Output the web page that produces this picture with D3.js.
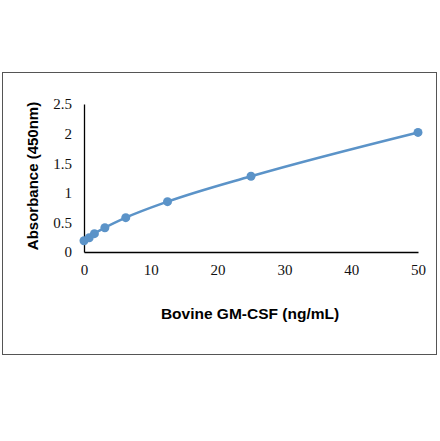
<!DOCTYPE html>
<html><head><meta charset="utf-8">
<script src="https://cdn.jsdelivr.net/npm/d3@7"></script>
<style>body{margin:0;background:#fff}</style>
</head><body>
<div id="chart"></div>
<script>
// Standard curve data
var conc = [0, 0.78, 1.56, 3.125, 6.25, 12.5, 25, 50]
var absorbance = [0.19, 0.24, 0.31, 0.41, 0.58, 0.85, 1.28, 2.02]
var xTicks = [0, 10, 20, 30, 40, 50]
var yTicks = [0, 0.5, 1, 1.5, 2, 2.5]

var width = 440, height = 441
var color = "#5b93c8"

var svg = d3.select('#chart').append('svg')
    .attr('width', width).attr('height', height)

// outer frame
svg.append('rect')
    .attr('x', 2.5).attr('y', 72.5).attr('width', 434).attr('height', 282)
    .attr('fill', 'none').attr('stroke', '#555').attr('stroke-width', 1)

var xScale = d3.scaleLinear().domain([0, 50]).range([84, 418])
var yScale = d3.scaleLinear().domain([0, 2.5]).range([252, 104])

var xAxis = svg.append('g')
    .attr('transform', 'translate(0,252)')
    .call(d3.axisBottom(xScale).tickValues(xTicks).tickSize(0).tickPadding(12).tickFormat(d3.format('')))
var yAxis = svg.append('g')
    .attr('transform', 'translate(84,0)')
    .call(d3.axisLeft(yScale).tickValues(yTicks).tickSize(0).tickPadding(12).tickFormat(d3.format('')))

svg.selectAll('.domain').attr('stroke', '#000').attr('stroke-width', 1.3)
svg.selectAll('.tick text')
    .attr('font-family', 'Liberation Serif, DejaVu Serif, serif')
    .attr('font-size', 15).attr('fill', '#111')
yAxis.selectAll('.tick text').attr('dy', '0.32em')

// axis titles
svg.append('text')
    .attr('x', 250).attr('y', 319).attr('text-anchor', 'middle')
    .attr('font-family', 'Liberation Sans, Arial, sans-serif')
    .attr('font-weight', 'bold').attr('font-size', 15.5)
    .text('Bovine GM-CSF (ng/mL)')
svg.append('text')
    .attr('transform', 'translate(38,176)rotate(-90)').attr('text-anchor', 'middle')
    .attr('font-family', 'Liberation Sans, Arial, sans-serif')
    .attr('font-weight', 'bold').attr('font-size', 15)
    .text('Absorbance (450nm)')

var data = conc.map(function (c, i) { return [c, absorbance[i]] })

var line = d3.line()
    .x(function (d) { return xScale(d[0]) })
    .y(function (d) { return yScale(d[1]) })
    .curve(d3.curveMonotoneX)

svg.append('path').datum(data)
    .attr('d', line).attr('fill', 'none')
    .attr('stroke', color).attr('stroke-width', 2.5)

svg.selectAll('.pt').data(data).enter().append('circle')
    .attr('class', 'pt')
    .attr('cx', function (d) { return xScale(d[0]) })
    .attr('cy', function (d) { return yScale(d[1]) })
    .attr('r', 4.5).attr('fill', color)
</script>
</body></html>
